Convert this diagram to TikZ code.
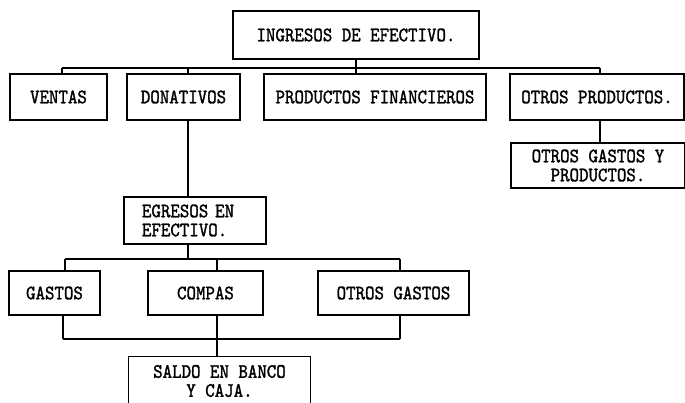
\documentclass[tikz,border=0pt]{standalone}
\usepackage{fontspec}
\usepackage{xcolor}
\usepackage{tikz}
\newfontfamily\maquina{lmmono10-regular.otf}[FakeBold=1.4, FakeStretch=0.88]
\tikzset{
  caja/.style={draw, line width=1.2pt, inner sep=0pt, font=\maquina\fontsize{20.5}{19}\selectfont},
  texto/.style={inner sep=0pt, font=\maquina\fontsize{20.5}{19}\selectfont},
  linea/.style={line width=1.2pt}
}

\begin{document}
\begin{tikzpicture}[x=1pt,y=-1pt]
\clip (0,0) rectangle (685,403);
\node[caja, minimum width=246pt, minimum height=48pt] (ingresos) at (356,35) {INGRESOS DE EFECTIVO.};
\node[caja, minimum width=97pt, minimum height=46pt] (ventas) at (58.5,97) {VENTAS};
\node[caja, minimum width=113pt, minimum height=46pt] (donativos) at (183.5,97) {DONATIVOS};
\node[caja, minimum width=222pt, minimum height=46pt] (financieros) at (375,97) {PRODUCTOS FINANCIEROS};
\node[caja, minimum width=174pt, minimum height=46pt] (otrosprod) at (597,97) {OTROS PRODUCTOS.};
\node[caja, minimum width=174pt, minimum height=45pt, align=center] (otrosgyp) at (598,165.5) {OTROS GASTOS Y\\PRODUCTOS.};
\node[caja, text width=106pt, inner xsep=18pt, minimum height=47pt, align=left] (egresos) at (195,220.5) {EGRESOS EN\\EFECTIVO.};
\node[caja, minimum width=91pt, minimum height=44pt] (gastos) at (54.5,293) {GASTOS};
\node[caja, minimum width=115pt, minimum height=44pt] (compas) at (205.5,293) {COMPAS};
\node[caja, minimum width=151pt, minimum height=44pt] (otrosgastos) at (393.5,293) {OTROS GASTOS};
\node[texto, minimum width=181pt, minimum height=48pt, align=center] (saldo) at (219.5,381) {SALDO EN BANCO\\Y CAJA.};
\draw[linea] ([yshift=-6pt]saldo.south west) -- (saldo.north west) -- (saldo.north east) -- ([yshift=-6pt]saldo.south east);

\coordinate (b1a) at (62,68);
\coordinate (b1c) at (188,68);
\coordinate (b1b) at (600,68);
\coordinate (b2a) at (65,259);
\coordinate (b2c) at (217,259);
\coordinate (b2b) at (400,259);
\coordinate (b3a) at (63,339);
\coordinate (b3c) at (217,339);
\coordinate (b3b) at (400,339);

\draw[linea] (b1a) -- (b1b);
\draw[linea] (ingresos.south) -- (ingresos.south |- financieros.north);
\draw[linea] (b1a) -- (b1a |- ventas.north);
\draw[linea] (b1c) -- (b1c |- donativos.north);
\draw[linea] (b1b) -- (b1b |- otrosprod.north);
\draw[linea] (b1b |- otrosprod.south) -- (b1b |- otrosgyp.north);
\draw[linea] (b1c |- donativos.south) -- (b1c |- egresos.north);
\draw[linea] (b1c |- egresos.south) -- (b1c |- b2a);
\draw[linea] (b2a) -- (b2b);
\draw[linea] (b2a) -- (b2a |- gastos.north);
\draw[linea] (b2c) -- (b2c |- compas.north);
\draw[linea] (b2b) -- (b2b |- otrosgastos.north);
\draw[linea] (b3a |- gastos.south) -- (b3a);
\draw[linea] (b3c |- compas.south) -- (b3c);
\draw[linea] (b3b |- otrosgastos.south) -- (b3b);
\draw[linea] (b3a) -- (b3b);
\draw[linea] (b3c) -- (b3c |- saldo.north);
\end{tikzpicture}
\end{document}
